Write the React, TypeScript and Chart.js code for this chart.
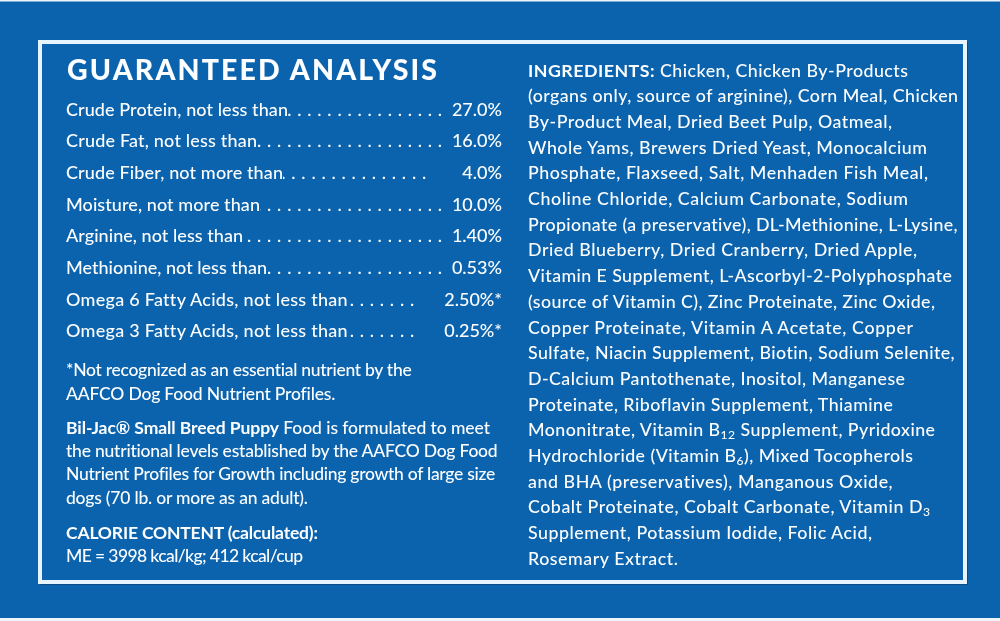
import React, { useEffect, useLayoutEffect, useRef } from "react";
import { Chart, registerables } from "chart.js";

Chart.register(...registerables);

// ---- data ----
const analysisTitle = "GUARANTEED ANALYSIS";
const nutrientLabels = [
  "Crude Protein, not less than",
  "Crude Fat, not less than",
  "Crude Fiber, not more than",
  "Moisture, not more than",
  "Arginine, not less than",
  "Methionine, not less than",
  "Omega 6 Fatty Acids, not less than",
  "Omega 3 Fatty Acids, not less than",
];
const nutrientValues = [27.0, 16.0, 4.0, 10.0, 1.4, 0.53, 2.5, 0.25];
const nutrientDecimals = [1, 1, 1, 1, 2, 2, 2, 2];
const nutrientStarred = [false, false, false, false, false, false, true, true];

const footnoteLines = [
  "*Not recognized as an essential nutrient by the",
  "AAFCO Dog Food Nutrient Profiles.",
];
const statementBold = "Bil-Jac® Small Breed Puppy";
const statementLines = [
  " Food is formulated to meet",
  "the nutritional levels established by the AAFCO Dog Food",
  "Nutrient Profiles for Growth including growth of large size",
  "dogs (70 lb. or more as an adult).",
];
const calorieTitle = "CALORIE CONTENT (calculated):";
const calorieLine = "ME = 3998 kcal/kg; 412 kcal/cup";

const ingredientsTitle = "INGREDIENTS:";
// text inside [...] is drawn as a subscript
const ingredientLines = [
  " Chicken, Chicken By-Products",
  "(organs only, source of arginine), Corn Meal, Chicken",
  "By-Product Meal, Dried Beet Pulp, Oatmeal,",
  "Whole Yams, Brewers Dried Yeast, Monocalcium",
  "Phosphate, Flaxseed, Salt, Menhaden Fish Meal,",
  "Choline Chloride, Calcium Carbonate, Sodium",
  "Propionate (a preservative), DL-Methionine, L-Lysine,",
  "Dried Blueberry, Dried Cranberry, Dried Apple,",
  "Vitamin E Supplement, L-Ascorbyl-2-Polyphosphate",
  "(source of Vitamin C), Zinc Proteinate, Zinc Oxide,",
  "Copper Proteinate, Vitamin A Acetate, Copper",
  "Sulfate, Niacin Supplement, Biotin, Sodium Selenite,",
  "D-Calcium Pantothenate, Inositol, Manganese",
  "Proteinate, Riboflavin Supplement, Thiamine",
  "Mononitrate, Vitamin B[12] Supplement, Pyridoxine",
  "Hydrochloride (Vitamin B[6]), Mixed Tocopherols",
  "and BHA (preservatives), Manganous Oxide,",
  "Cobalt Proteinate, Cobalt Carbonate, Vitamin D[3]",
  "Supplement, Potassium Iodide, Folic Acid,",
  "Rosemary Extract.",
];

// ---- layout / styles (right edges of each text line, in px) ----
const BLUE = "#0b63ae";
const TEXT = "#fdfeff";
const FONT = "Lato, 'Open Sans', sans-serif";
const LEFT_X = 66;
const RIGHT_COL_X = 528;
const titleRight = 437;
const labelRights = [288, 257, 283, 260, 243, 267, 347, 347];
const valueMinWidths = [0, 0, 66, 0, 0, 0, 78, 78];
const footnoteRights = [412, 335];
const statementRights = [490, 498, 495, 308];
const calorieRights = [318, 303];
const ingredientRights = [908, 958, 892, 927, 928, 908, 958, 917, 952, 935, 913, 955, 905, 893, 935, 913, 893, 930, 872, 678];

function topFor(center: number, size: number, lh: number) {
  return center - (lh - 1.2 * size) / 2 - 0.6285 * size;
}

function Fit({ width, children, style }: { width: number; children: any; style?: any }) {
  const ref = useRef<HTMLSpanElement | null>(null);
  useLayoutEffect(() => {
    const el = ref.current;
    if (!el) return;
    const fit = () => {
      el.style.letterSpacing = "0px";
      const w = el.getBoundingClientRect().width;
      const n = (el.textContent || "").length;
      if (n > 1) el.style.letterSpacing = (width - w) / (n - 1) + "px";
    };
    fit();
    const fonts = (document as any).fonts;
    if (fonts && fonts.ready) fonts.ready.then(fit);
  }, [width]);
  return (
    <span ref={ref} style={{ display: "inline-block", whiteSpace: "nowrap", ...style }}>
      {children}
    </span>
  );
}

function withSubs(s: string) {
  const parts = s.split(/(\[[^\]]+\])/);
  return parts.map((p, i) =>
    p.startsWith("[") ? (
      <span key={i} style={{ fontSize: "0.68em", verticalAlign: "-0.28em", lineHeight: 0 }}>
        {p.slice(1, -1)}
      </span>
    ) : (
      <React.Fragment key={i}>{p}</React.Fragment>
    )
  );
}

const panelPlugin = {
  id: "panel",
  beforeDraw(chart: any) {
    const { ctx, width, height, chartArea } = chart;
    ctx.save();
    ctx.fillStyle = BLUE;
    ctx.fillRect(0, 0, width, height);
    ctx.fillStyle = "#eef6fc";
    ctx.fillRect(0, 0, width, 1.5);
    ctx.fillRect(0, height - 3, width, 3);
    const { left, top, right, bottom } = chartArea;
    ctx.strokeStyle = "#0a4a86";
    ctx.lineWidth = 2;
    ctx.strokeRect(left + 1, top + 1, right - left + 1, bottom - top + 1);
    ctx.strokeStyle = "#e8f4fd";
    ctx.lineWidth = 4;
    ctx.strokeRect(left, top, right - left, bottom - top);
    ctx.restore();
  },
};

export default function App() {
  const ref = useRef<HTMLCanvasElement | null>(null);

  useEffect(() => {
    if (!ref.current) return;
    const chart = new Chart(ref.current, {
      type: "bar",
      data: { labels: nutrientLabels, datasets: [] },
      options: {
        animation: false,
        responsive: false,
        layout: { padding: { left: 40, top: 42, right: 35, bottom: 39 } },
        scales: { x: { display: false }, y: { display: false } },
        plugins: { legend: { display: false }, tooltip: { enabled: false } },
      },
      plugins: [panelPlugin],
    } as any);
    return () => chart.destroy();
  }, []);

  const rowSize = 18;
  const rowLH = 31.7;
  const smallSize = 17.5;
  const smallLH = 23.3;
  const ingSize = 17.8;
  const ingLH = 25.7;
  const bodyWeight = 500;

  const fmt = (i: number) =>
    nutrientValues[i].toFixed(nutrientDecimals[i]) + "%" + (nutrientStarred[i] ? "*" : "");

  const lineStyle = (lh: number) => ({ height: lh, lineHeight: lh + "px" });

  return (
    <div style={{ position: "absolute", left: 0, top: 0, width: 1000, height: 621, overflow: "hidden" }}>
      <canvas ref={ref} width={1000} height={621} style={{ position: "absolute", left: 0, top: 0 }} />
      <div
        style={{
          position: "absolute",
          left: 0,
          top: 0,
          width: 1000,
          height: 621,
          color: TEXT,
          fontFamily: FONT,
          fontWeight: bodyWeight,
          pointerEvents: "none",
        }}
      >
        <div style={{ position: "absolute", left: 67, top: topFor(70, 28.5, 34), fontSize: 28.5, lineHeight: "34px", fontWeight: 900 }}>
          <Fit width={titleRight - 67}>{analysisTitle}</Fit>
        </div>

        <div style={{ position: "absolute", left: LEFT_X, top: topFor(110, rowSize, rowLH), width: 436 }}>
          {nutrientLabels.map((lab, i) => (
            <div key={i} style={{ display: "flex", height: rowLH, lineHeight: rowLH + "px", fontSize: rowSize, whiteSpace: "nowrap" }}>
              <Fit width={labelRights[i] - LEFT_X}>{lab}</Fit>
              <span
                style={{
                  flex: 1,
                  overflow: "hidden",
                  direction: "rtl",
                  textAlign: "left",
                  paddingRight: 4,
                  letterSpacing: 5.8,
                }}
              >
                {".".repeat(40)}
              </span>
              <span style={{ minWidth: valueMinWidths[i], textAlign: "right" }}>{fmt(i)}</span>
            </div>
          ))}
        </div>

        <div style={{ position: "absolute", left: LEFT_X, top: topFor(370.5, smallSize, smallLH), fontSize: smallSize }}>
          {footnoteLines.map((l, i) => (
            <div key={i} style={lineStyle(smallLH)}>
              <Fit width={footnoteRights[i] - LEFT_X}>{l}</Fit>
            </div>
          ))}
        </div>

        <div style={{ position: "absolute", left: LEFT_X, top: topFor(428, smallSize, smallLH), fontSize: smallSize }}>
          {statementLines.map((l, i) => (
            <div key={i} style={lineStyle(smallLH)}>
              <Fit width={statementRights[i] - LEFT_X}>
                {i === 0 ? <b style={{ fontWeight: 700 }}>{statementBold}</b> : null}
                {l}
              </Fit>
            </div>
          ))}
        </div>

        <div style={{ position: "absolute", left: LEFT_X, top: topFor(533, smallSize, smallLH), fontSize: smallSize }}>
          <div style={lineStyle(smallLH)}>
            <Fit width={calorieRights[0] - LEFT_X} style={{ fontWeight: 700 }}>
              {calorieTitle}
            </Fit>
          </div>
          <div style={lineStyle(smallLH)}>
            <Fit width={calorieRights[1] - LEFT_X}>{calorieLine}</Fit>
          </div>
        </div>

        <div style={{ position: "absolute", left: RIGHT_COL_X, top: topFor(71, ingSize, ingLH), fontSize: ingSize }}>
          {ingredientLines.map((l, i) => (
            <div key={i} style={lineStyle(ingLH)}>
              <Fit width={ingredientRights[i] - RIGHT_COL_X}>
                {i === 0 ? <b style={{ fontWeight: 700 }}>{ingredientsTitle}</b> : null}
                {withSubs(l)}
              </Fit>
            </div>
          ))}
        </div>
      </div>
    </div>
  );
}
